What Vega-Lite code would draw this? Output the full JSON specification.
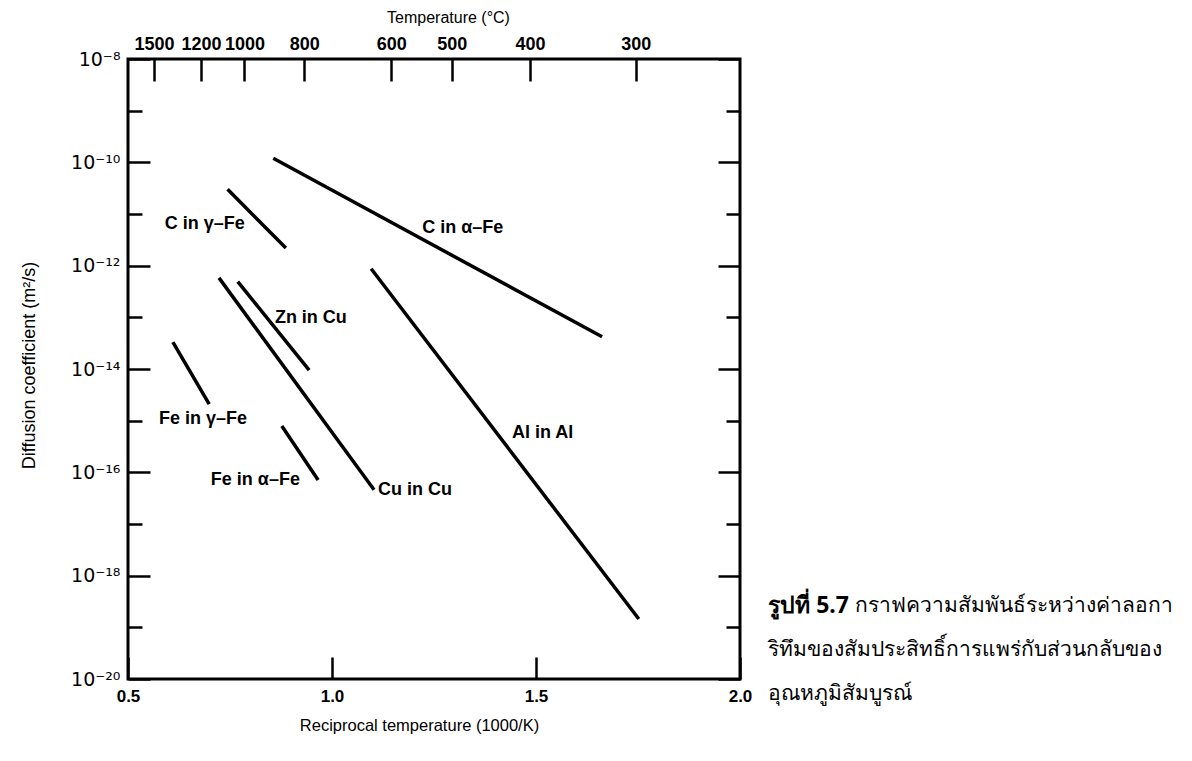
{
  "$schema": "https://vega.github.io/schema/vega-lite/v6.json",
  "width": 612,
  "height": 620,
  "autosize": {"type": "none"},
  "padding": {"left": 128, "top": 59, "right": 452, "bottom": 82},
  "background": "white",
  "config": {
    "view": {"stroke": "black", "strokeWidth": 3},
    "axis": {"labelOverlap": false, "labelFlush": false, "grid": false, "domain": false, "tickColor": "black", "tickWidth": 2.5, "labelColor": "black", "titleColor": "black", "labelFont": "Liberation Sans", "titleFont": "Liberation Sans", "titleFontWeight": "normal", "labelFontWeight": "bold"}
  },
  "datasets": {
    "lines": [
      {"series": "C in α-Fe", "r": 0.856, "D": 1.2e-10},
      {"series": "C in α-Fe", "r": 1.662, "D": 4.2e-14},
      {"series": "C in γ-Fe", "r": 0.744, "D": 3.0e-11},
      {"series": "C in γ-Fe", "r": 0.887, "D": 2.2e-12},
      {"series": "Zn in Cu", "r": 0.769, "D": 4.9e-13},
      {"series": "Zn in Cu", "r": 0.944, "D": 9.5e-15},
      {"series": "Cu in Cu", "r": 0.723, "D": 5.8e-13},
      {"series": "Cu in Cu", "r": 1.103, "D": 4.6e-17},
      {"series": "Fe in γ-Fe", "r": 0.610, "D": 3.3e-14},
      {"series": "Fe in γ-Fe", "r": 0.699, "D": 2.1e-15},
      {"series": "Fe in α-Fe", "r": 0.877, "D": 7.9e-16},
      {"series": "Fe in α-Fe", "r": 0.966, "D": 7.1e-17},
      {"series": "Al in Al", "r": 1.096, "D": 8.7e-13},
      {"series": "Al in Al", "r": 1.752, "D": 1.45e-19}
    ],
    "labels": [
      {"label": "C in γ–Fe", "r": 0.590, "D": 6.3e-12},
      {"label": "Zn in Cu", "r": 0.860, "D": 9.8e-14},
      {"label": "Fe in γ–Fe", "r": 0.576, "D": 1.07e-15},
      {"label": "Fe in α–Fe", "r": 0.703, "D": 7.1e-17},
      {"label": "Cu in Cu", "r": 1.113, "D": 4.6e-17},
      {"label": "Al in Al", "r": 1.441, "D": 5.8e-16},
      {"label": "C in α–Fe", "r": 1.221, "D": 5.4e-12}
    ],
    "captionBold": [
      {"text": "รูปที่ 5.7", "r": 2.069, "D": 2.57e-19}
    ],
    "caption": [
      {"text": "กราฟความสัมพันธ์ระหว่างค่าลอกา", "r": 2.282, "D": 2.57e-19},
      {"text": "ริทึมของสัมประสิทธิ์การแพร่กับส่วนกลับของ", "r": 2.069, "D": 3.6e-20},
      {"text": "อุณหภูมิสัมบูรณ์", "r": 2.069, "D": 5.1e-21}
    ]
  },
  "resolve": {"axis": {"x": "independent", "y": "independent"}},
  "layer": [
    {
      "data": {"name": "lines"},
      "mark": {"type": "line", "color": "black", "strokeWidth": 3.5, "strokeCap": "butt"},
      "encoding": {
        "x": {
          "field": "r", "type": "quantitative",
          "scale": {"domain": [0.5, 2.0], "nice": false, "zero": false},
          "axis": {
            "orient": "bottom",
            "values": [0.5, 1.0, 1.5, 2.0],
            "format": ".1f",
            "tickSize": -22,
            "labelPadding": 31,
            "labelFontSize": 17,
            "title": "Reciprocal temperature (1000/K)",
            "titleFontSize": 16.5,
            "titlePadding": 13,
            "titleX": 291
          }
        },
        "y": {
          "field": "D", "type": "quantitative",
          "scale": {"type": "log", "domain": [1e-20, 1e-8], "nice": false},
          "axis": {
            "orient": "left",
            "values": [1e-20, 1e-19, 1e-18, 1e-17, 1e-16, 1e-15, 1e-14, 1e-13, 1e-12, 1e-11, 1e-10, 1e-9, 1e-8],
            "labelExpr": "['10⁻²⁰','','10⁻¹⁸','','10⁻¹⁶','','10⁻¹⁴','','10⁻¹²','','10⁻¹⁰','','10⁻⁸'][round(log(datum.value)/LN10)+20]",
            "tickSize": {"condition": {"test": "round(log(datum.value)/LN10) % 2 == 0", "value": -22}, "value": -14},
            "labelPadding": 30,
            "labelFont": "DejaVu Sans",
            "labelFontWeight": "normal",
            "labelFontSize": 19,
            "title": "Diffusion coefficient (m²/s)",
            "titleFontSize": 18,
            "titleX": -90,
            "titleY": 306,
            "titleBaseline": "bottom"
          }
        },
        "detail": {"field": "series"}
      }
    },
    {
      "data": {"name": "lines"},
      "mark": {"type": "line", "opacity": 0},
      "encoding": {
        "x": {
          "field": "r", "type": "quantitative",
          "axis": {
            "orient": "top",
            "values": [0.56397, 0.67882, 0.78545, 0.93184, 1.14526, 1.29341, 1.48555, 1.74474],
            "labelExpr": "format(1000/datum.value - 273.15, '.0f')",
            "tickSize": -22,
            "labelPadding": 28,
            "labelFontSize": 18,
            "title": "Temperature (°C)",
            "titleFontSize": 16,
            "titlePadding": 10,
            "titleX": 320
          }
        },
        "y": {
          "field": "D", "type": "quantitative",
          "axis": {
            "orient": "right",
            "values": [1e-20, 1e-19, 1e-18, 1e-17, 1e-16, 1e-15, 1e-14, 1e-13, 1e-12, 1e-11, 1e-10, 1e-9, 1e-8],
            "labels": false,
            "tickSize": {"condition": {"test": "round(log(datum.value)/LN10) % 2 == 0", "value": -22}, "value": -14},
            "title": null
          }
        },
        "detail": {"field": "series"}
      }
    },
    {
      "data": {"name": "labels"},
      "mark": {"type": "text", "align": "left", "baseline": "middle", "font": "Liberation Sans", "fontSize": 18, "fontWeight": "bold", "color": "black"},
      "encoding": {
        "x": {"field": "r", "type": "quantitative", "axis": null},
        "y": {"field": "D", "type": "quantitative", "axis": null},
        "text": {"field": "label"}
      }
    },
    {
      "data": {"name": "captionBold"},
      "mark": {"type": "text", "align": "left", "baseline": "middle", "font": "Noto Sans", "fontSize": 23, "fontWeight": "bold", "color": "black"},
      "encoding": {
        "x": {"field": "r", "type": "quantitative", "axis": null},
        "y": {"field": "D", "type": "quantitative", "axis": null},
        "text": {"field": "text"}
      }
    },
    {
      "data": {"name": "caption"},
      "mark": {"type": "text", "align": "left", "baseline": "middle", "font": "Noto Sans", "fontSize": 21, "color": "black"},
      "encoding": {
        "x": {"field": "r", "type": "quantitative", "axis": null},
        "y": {"field": "D", "type": "quantitative", "axis": null},
        "text": {"field": "text"}
      }
    }
  ]
}
